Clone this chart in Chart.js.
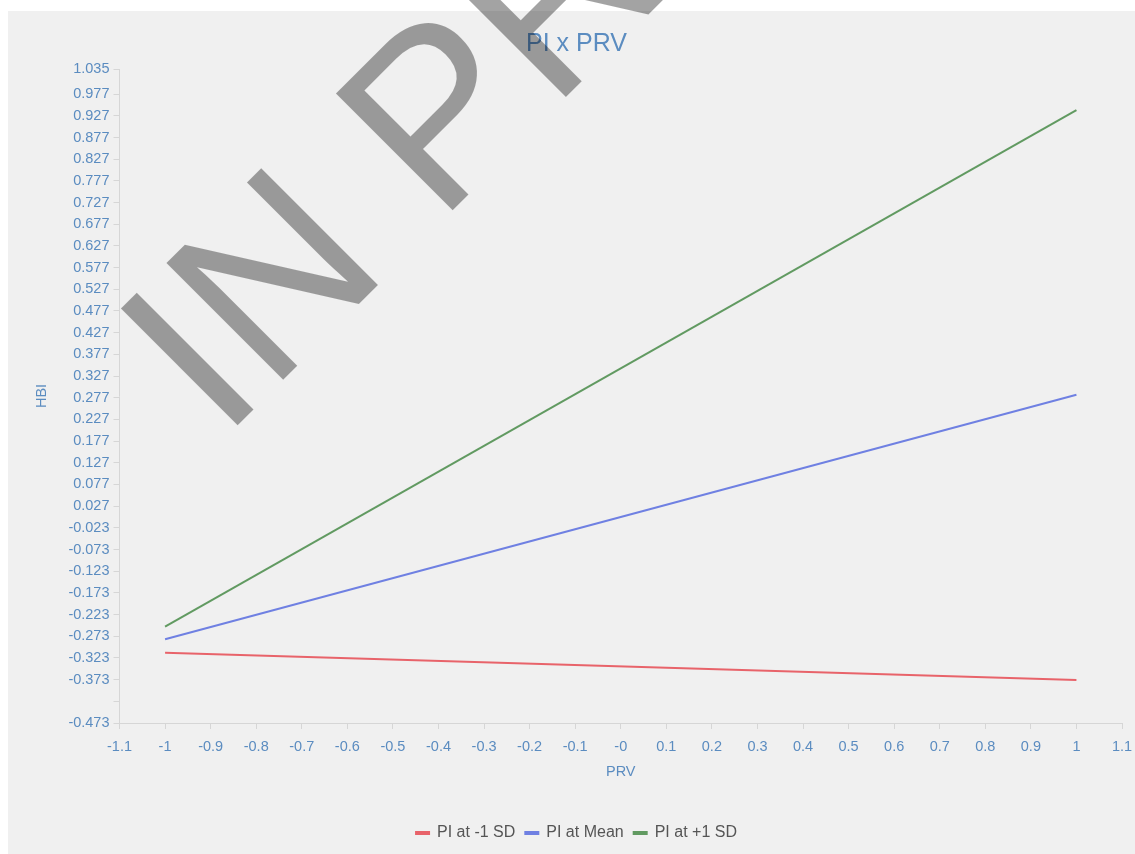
<!DOCTYPE html>
<html>
<head>
<meta charset="utf-8">
<title>PI x PRV</title>
<script src="https://cdn.jsdelivr.net/npm/chart.js@4/dist/chart.umd.min.js"></script>
<style>
  html, body { margin: 0; padding: 0; background: #ffffff; overflow: hidden; }
  canvas { display: block; }
</style>
</head>
<body>
<canvas id="chart" width="1135" height="854"></canvas>
<script>
// PRV values at which each simple slope is evaluated
const prvPoints = [-1, 1];

// Predicted HBI for three levels of PI
const seriesLow  = [-0.311, -0.374];   // PI at -1 SD
const seriesMean = [-0.280, 0.284];    // PI at Mean
const seriesHigh = [-0.251, 0.940];    // PI at +1 SD

const seriesNames = ['PI at -1 SD', 'PI at Mean', 'PI at +1 SD'];

// Axis ticks
const xTickValues = [-1.1, -1, -0.9, -0.8, -0.7, -0.6, -0.5, -0.4, -0.3, -0.2, -0.1, 0,
                     0.1, 0.2, 0.3, 0.4, 0.5, 0.6, 0.7, 0.8, 0.9, 1, 1.1];
const xTickLabels = ['-1.1', '-1', '-0.9', '-0.8', '-0.7', '-0.6', '-0.5', '-0.4', '-0.3', '-0.2', '-0.1', '-0',
                     '0.1', '0.2', '0.3', '0.4', '0.5', '0.6', '0.7', '0.8', '0.9', '1', '1.1'];
const yTickValues = [-0.473, -0.423, -0.373, -0.323, -0.273, -0.223, -0.173, -0.123, -0.073, -0.023,
                     0.027, 0.077, 0.127, 0.177, 0.227, 0.277, 0.327, 0.377, 0.427, 0.477, 0.527,
                     0.577, 0.627, 0.677, 0.727, 0.777, 0.827, 0.877, 0.927, 0.977, 1.035];
const yTickLabels = ['-0.473', '', '-0.373', '-0.323', '-0.273', '-0.223', '-0.173', '-0.123', '-0.073', '-0.023',
                     '0.027', '0.077', '0.127', '0.177', '0.227', '0.277', '0.327', '0.377', '0.427', '0.477', '0.527',
                     '0.577', '0.627', '0.677', '0.727', '0.777', '0.827', '0.877', '0.927', '0.977', '1.035'];

const FONT = '"Liberation Sans", Arial, sans-serif';
const BLUE_TEXT = '#5b8cc0';
const AXIS_GREY = '#d6d6d6';

function toXY(ys) {
  return prvPoints.map((x, i) => ({ x: x, y: ys[i] }));
}

function labelFor(values, labels, v) {
  const i = values.findIndex(t => Math.abs(t - v) < 1e-9);
  return i >= 0 ? labels[i] : '';
}

// Page background and the light grey panel behind the chart
const panelPlugin = {
  id: 'panel',
  beforeDraw(chart) {
    const ctx = chart.ctx;
    ctx.save();
    ctx.fillStyle = '#ffffff';
    ctx.fillRect(0, 0, chart.width, chart.height);
    ctx.fillStyle = '#f0f0f0';
    ctx.fillRect(8, 11, chart.width - 8, chart.height - 11);
    ctx.restore();
  }
};

// Diagonal "IN PREVIEW" stamp laid over the chart
const stampPlugin = {
  id: 'stamp',
  afterDraw(chart) {
    const ctx = chart.ctx;
    ctx.save();
    ctx.translate(222, 441);
    ctx.rotate(-Math.PI / 4);
    ctx.font = '240px ' + FONT;
    ctx.fillStyle = 'rgba(0, 0, 0, 0.36)';
    ctx.textBaseline = 'alphabetic';
    ctx.textAlign = 'left';
    ctx.fillText('IN PREVIEW', 0, 0);
    ctx.restore();
  }
};

const commonLine = { borderWidth: 2, pointRadius: 0, pointHoverRadius: 0, tension: 0, fill: false };

new Chart(document.getElementById('chart'), {
  type: 'line',
  data: {
    datasets: [
      Object.assign({ label: seriesNames[0], data: toXY(seriesLow),
        borderColor: '#e8636a', backgroundColor: '#e8636a' }, commonLine),
      Object.assign({ label: seriesNames[1], data: toXY(seriesMean),
        borderColor: '#6f80e2', backgroundColor: '#6f80e2' }, commonLine),
      Object.assign({ label: seriesNames[2], data: toXY(seriesHigh),
        borderColor: '#619a61', backgroundColor: '#619a61' }, commonLine)
    ]
  },
  options: {
    responsive: false,
    animation: false,
    devicePixelRatio: 1,
    // the drawing surface runs a little past the right edge, so the
    // title and legend sit slightly right of the canvas centre
    layout: { padding: { left: 8, top: 11, right: -10, bottom: 3 } },
    plugins: {
      title: {
        display: true,
        text: 'PI x PRV',
        color: BLUE_TEXT,
        font: { family: FONT, size: 25, weight: 'normal' },
        padding: { top: 18, bottom: 10 }
      },
      legend: {
        position: 'bottom',
        labels: {
          color: '#555555',
          font: { family: FONT, size: 16 },
          boxWidth: 13,
          boxHeight: 2,
          padding: 10
        }
      },
      tooltip: { enabled: false }
    },
    scales: {
      x: {
        type: 'linear',
        min: -1.1,
        max: 1.1,
        afterBuildTicks(scale) { scale.ticks = xTickValues.map(v => ({ value: v })); },
        afterFit(scale) { scale.height = 92; },
        ticks: {
          autoSkip: false,
          maxRotation: 0,
          color: BLUE_TEXT,
          // tall line box drops the labels below the tick marks while
          // keeping the small tick padding
          font: { family: FONT, size: 14.5, lineHeight: 2.17 },
          padding: 2,
          callback: v => labelFor(xTickValues, xTickLabels, v)
        },
        grid: { drawOnChartArea: false, drawTicks: true, tickLength: 6, color: AXIS_GREY },
        border: { display: true, color: AXIS_GREY, width: 1 },
        title: {
          display: true,
          text: 'PRV',
          color: BLUE_TEXT,
          font: { family: FONT, size: 14.5 },
          padding: { top: 0, bottom: 34 }
        }
      },
      y: {
        type: 'linear',
        min: -0.473,
        max: 1.035,
        afterBuildTicks(scale) { scale.ticks = yTickValues.map(v => ({ value: v })); },
        afterFit(scale) { scale.width = 111.5; },
        ticks: {
          autoSkip: false,
          color: BLUE_TEXT,
          font: { family: FONT, size: 14.5 },
          padding: 4,
          callback: v => labelFor(yTickValues, yTickLabels, v)
        },
        grid: { drawOnChartArea: false, drawTicks: true, tickLength: 6, color: AXIS_GREY },
        border: { display: true, color: AXIS_GREY, width: 1 },
        title: {
          display: true,
          text: 'HBI',
          color: BLUE_TEXT,
          font: { family: FONT, size: 14.5 },
          padding: { top: 25.6, bottom: 0 }
        }
      },
      // empty right-hand gutter that keeps the plot clear of the right edge
      gutter: {
        type: 'linear',
        position: 'right',
        display: true,
        afterFit(scale) { scale.width = 23; },
        ticks: { display: false },
        grid: { display: false },
        border: { display: false }
      }
    }
  },
  plugins: [panelPlugin, stampPlugin]
});
</script>
</body>
</html>
